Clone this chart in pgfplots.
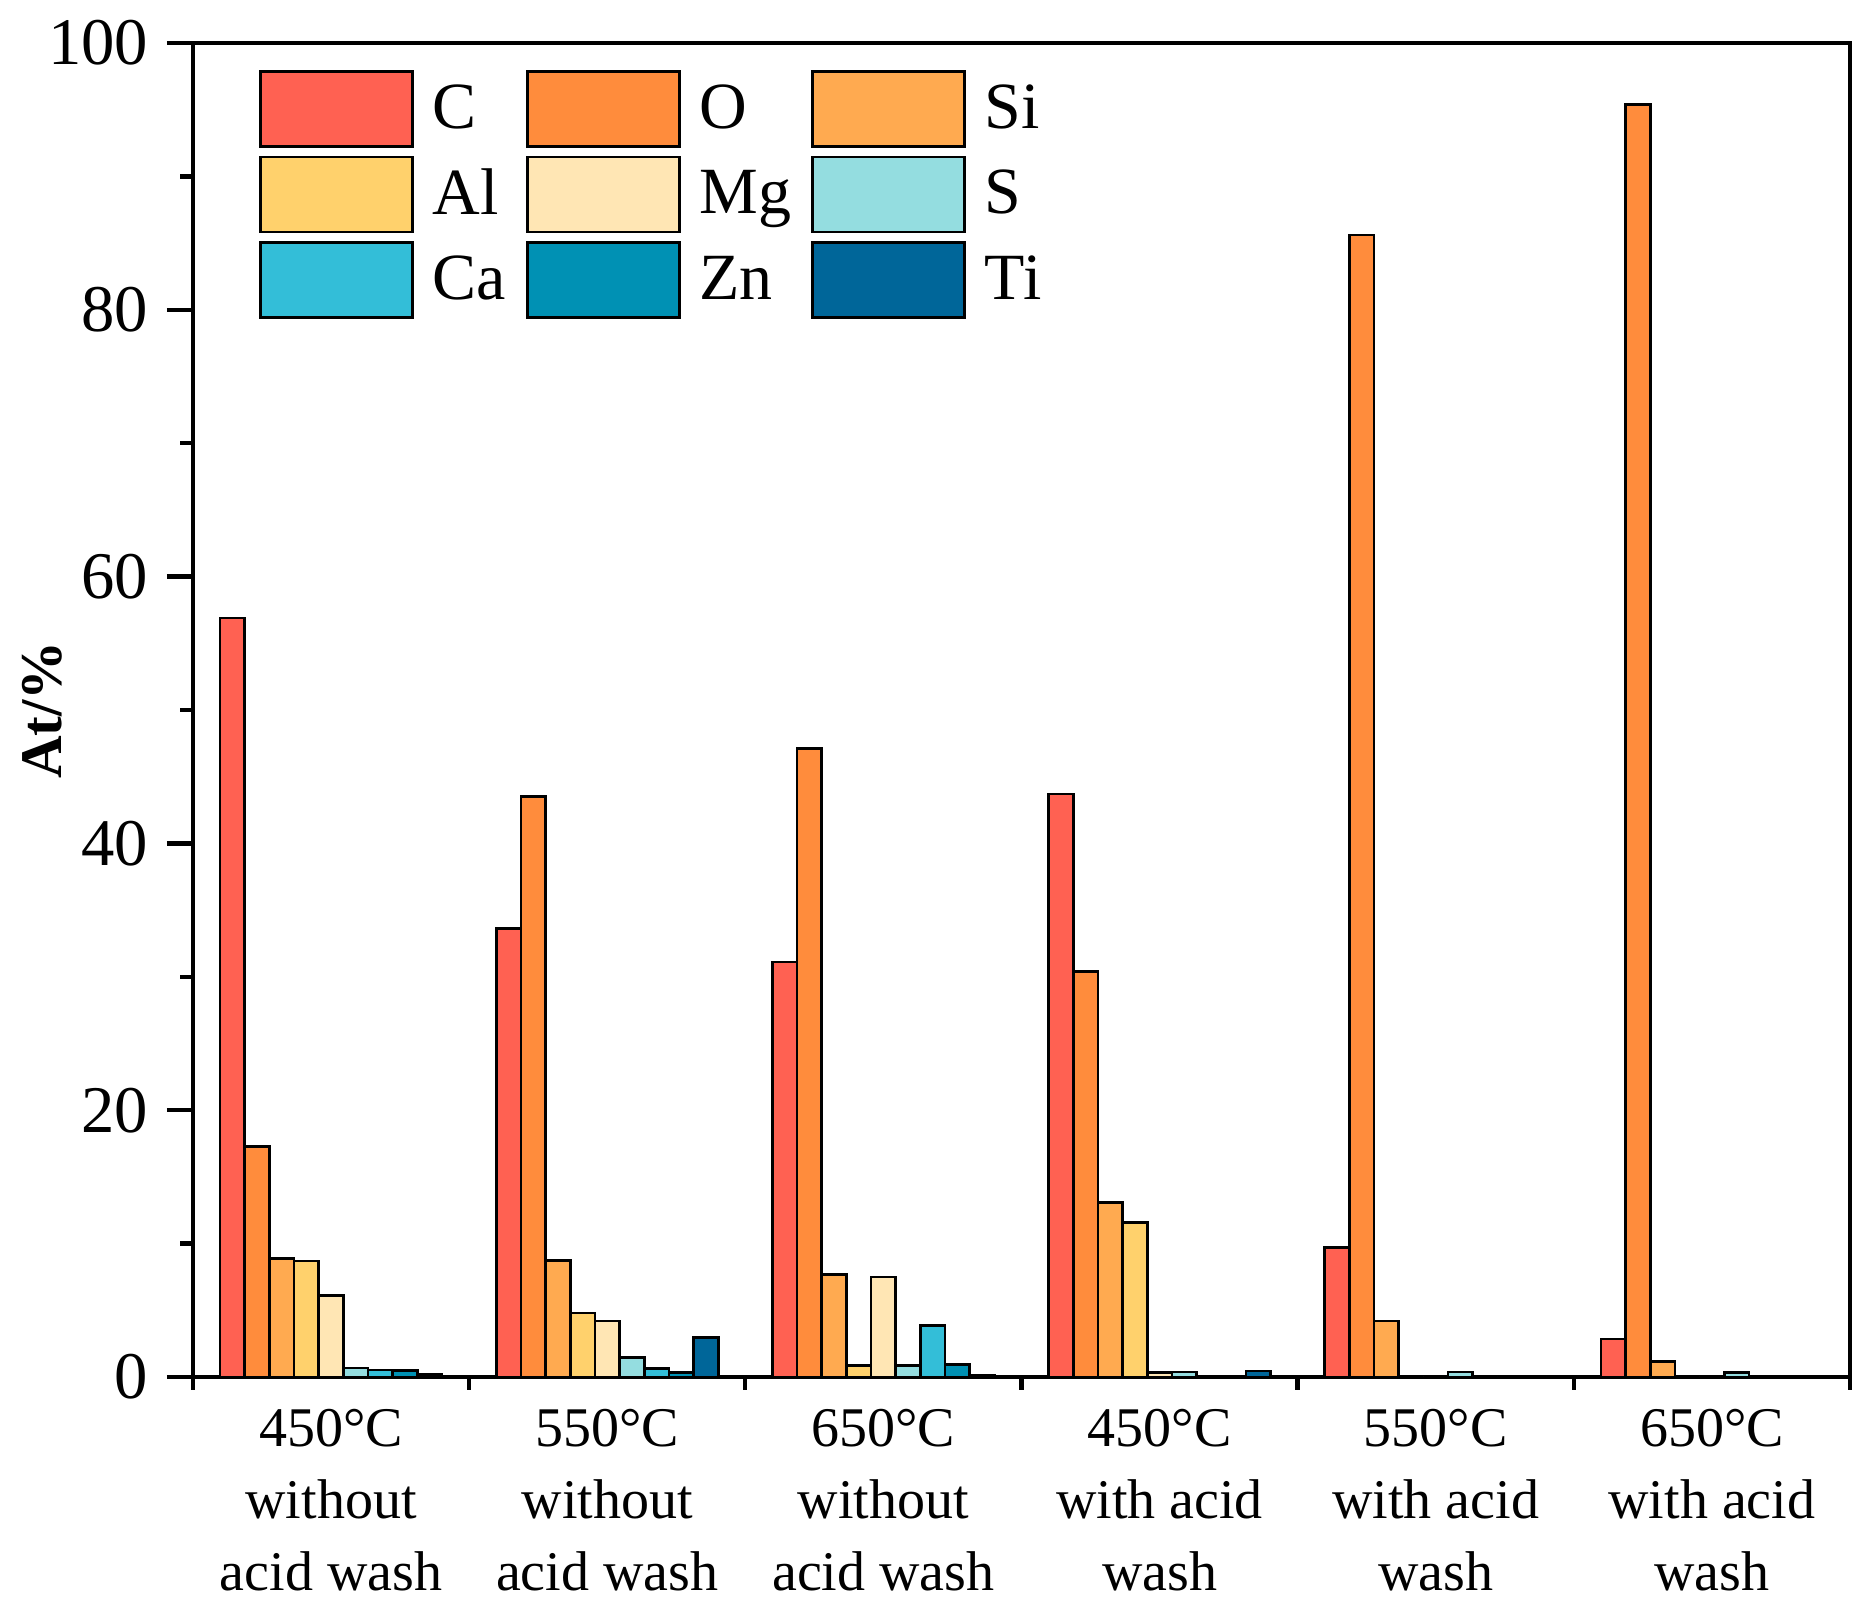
\documentclass[border=0pt]{standalone}
\usepackage{pgfplots}
\pgfplotsset{compat=1.18}
\usepackage{pgfplotstable}
\usepackage{fontspec}
\setmainfont{Liberation Serif}

\definecolor{cC}{HTML}{FF6152}
\definecolor{cO}{HTML}{FF8C3C}
\definecolor{cSi}{HTML}{FFAA50}
\definecolor{cAl}{HTML}{FFD16C}
\definecolor{cMg}{HTML}{FFE6B4}
\definecolor{cS}{HTML}{94DDE0}
\definecolor{cCa}{HTML}{33BED8}
\definecolor{cZn}{HTML}{0091B4}
\definecolor{cTi}{HTML}{006699}

\pgfplotstableread{
x  C     O     Si    Al    Mg    S     Ca    Zn    Ti
0  56.9  17.3  8.9   8.7   6.1   0.68  0.53  0.50  0.18
1  33.6  43.5  8.75  4.8   4.2   1.46  0.63  0.33  2.98
2  31.1  47.1  7.7   0.88  7.5   0.88  3.86  0.96  0.10
3  43.7  30.4  13.1  11.6  0.33  0.38  0.0   0.0   0.45
4  9.7   85.6  4.2   0.0   0.0   0.38  0.0   0.0   0.0
5  2.85  95.4  1.14  0.05  0.0   0.35  0.0   0.06  0.0
}\datatable

\begin{document}
\begin{tikzpicture}
\useasboundingbox (-57.9pt,-68.7pt) rectangle (502.2pt,413.1pt);
\begin{axis}[
  at={(0pt,0pt)}, anchor=south west,
  scale only axis,
  width=497.1pt, height=400.2pt,
  ybar=0pt, bar width=0.0893,
  xmin=-0.5, xmax=5.5,
  ymin=0, ymax=100,
  axis line style={line width=1.3pt},
  every tick/.style={line width=1.3pt, black},
  tick align=outside,
  tick pos=left,
  xtick={0,1,2,3,4,5},
  xticklabels={450°C\\without\\acid wash, 550°C\\without\\acid wash, 650°C\\without\\acid wash, 450°C\\with acid\\wash, 550°C\\with acid\\wash, 650°C\\with acid\\wash},
  major x tick style={draw=none},
  minor xtick={-0.5,0.5,1.5,2.5,3.5,4.5,5.5},
  ytick={0,20,40,60,80,100},
  minor ytick={10,30,50,70,90},
  major tick length=7.8pt,
  minor tick length=3.8pt,
  /pgf/number format/assume math mode=true,
  yticklabel style={font=\fontsize{20pt}{24pt}\selectfont, inner sep=0pt, xshift=-5.4pt},
  xticklabel style={font=\fontsize{16.8pt}{21.5pt}\selectfont, align=center, inner sep=0pt, yshift=-1.8pt},
  ylabel={\textbf{At/\%}},
  ylabel style={font=\fontsize{17.7pt}{20pt}\selectfont, at={(axis description cs:-0.0911,0.5)}, anchor=center},
  legend columns=3,
  legend cell align=left,
  legend image code/.code={\draw[#1, line width=0.8pt] (0pt,-11.25pt) rectangle (45.6pt,11.25pt);},
  legend style={draw=none, fill=none, inner sep=0pt, outer sep=0pt,
    at={(axis description cs:0,1)}, anchor=north west, xshift=19.8pt, yshift=-8.1pt,
    font=\fontsize{19.8pt}{22pt}\selectfont,
    nodes={inner sep=0pt},
    /tikz/row sep=2.4pt,
    /tikz/every odd column/.append style={column sep=5.7pt},
    /tikz/every even column/.append style={column sep=6pt}},
  every axis plot/.append style={draw=black, line width=0.8pt},
]
\addplot[fill=cC]  table[x=x,y=C]  {\datatable};
\addplot[fill=cO]  table[x=x,y=O]  {\datatable};
\addplot[fill=cSi] table[x=x,y=Si] {\datatable};
\addplot[fill=cAl] table[x=x,y=Al] {\datatable};
\addplot[fill=cMg] table[x=x,y=Mg] {\datatable};
\addplot[fill=cS]  table[x=x,y=S]  {\datatable};
\addplot[fill=cCa] table[x=x,y=Ca] {\datatable};
\addplot[fill=cZn] table[x=x,y=Zn] {\datatable};
\addplot[fill=cTi] table[x=x,y=Ti] {\datatable};
\legend{C,O,Si,Al,Mg,S,Ca,Zn,Ti}
\end{axis}
\end{tikzpicture}
\end{document}
